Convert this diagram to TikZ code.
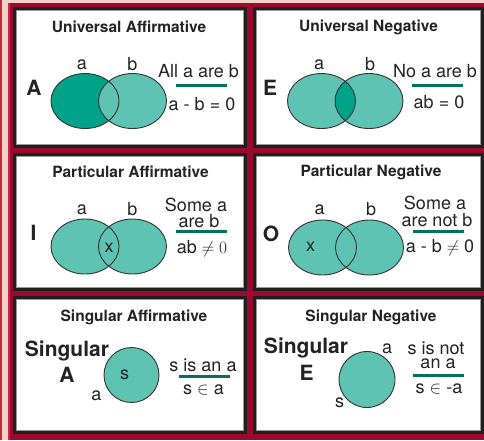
\documentclass[tikz,border=0pt]{standalone}
\usepackage{fontspec}
\setmainfont{TeX Gyre Heros}
\definecolor{wine}{HTML}{9C0A2F}
\definecolor{blush}{HTML}{F2D3C9}
\definecolor{flag}{HTML}{C8283A}
\definecolor{teallt}{HTML}{5FC3B4}
\definecolor{tealdk}{HTML}{00A38A}
\definecolor{ulgreen}{HTML}{00735A}
\definecolor{ink}{HTML}{232323}

\begin{document}
\begin{tikzpicture}[x=1pt,y=-1pt,
  panel/.style={draw=black!88,line width=3pt,fill=white},
  rim/.style={draw=black!40,line width=0.6pt},
  title/.style={inner sep=0pt,text=ink,font=\bfseries\fontsize{15.5}{17}\selectfont},
  big/.style={inner sep=0pt,text=ink,font=\bfseries\fontsize{21}{23}\selectfont},
  txt/.style={inner sep=0pt,text=ink,font=\fontsize{18}{20}\selectfont},
  venn/.style={draw=black!80,line width=0.9pt},
  ovl/.style={x radius=34pt,y radius=27.5pt},
  uline/.style={draw=ulgreen,line width=3pt}]
\useasboundingbox (0,0) rectangle (484,440);
% frame
\fill[wine] (0,0) rectangle (484,440);
\fill[blush] (0,0) rectangle (484,3);
\fill[blush] (0,0) rectangle (8.5,440);
\draw[flag,line width=1.5pt] (0.8,0) -- (0.8,440);
\draw[flag,line width=1.5pt] (9.2,3) -- (9.2,440);
\draw[panel] (14.5,8.5) rectangle (245,146.5);
\draw[panel] (254.5,8.5) rectangle (482.5,146.5);
\draw[panel] (14.5,154.5) rectangle (245,289.5);
\draw[panel] (254.5,154.5) rectangle (482.5,289.5);
\draw[panel] (14.5,297.5) rectangle (245,432.5);
\draw[panel] (254.5,297.5) rectangle (482.5,432.5);
\draw[rim] (16.4,10.4) rectangle (243.1,144.6);
\draw[rim] (256.4,10.4) rectangle (480.6,144.6);
\draw[rim] (16.4,156.4) rectangle (243.1,287.6);
\draw[rim] (256.4,156.4) rectangle (480.6,287.6);
\draw[rim] (16.4,299.4) rectangle (243.1,430.6);
\draw[rim] (256.4,299.4) rectangle (480.6,430.6);

% universal affirmative
\node[title] (uatitle) at (129,27) {Universal Affirmative};
\node[big] (uakey) at (34,87.5) {A};
\fill[tealdk] (85,101) ellipse [ovl];
\fill[teallt] (132.5,101) ellipse [ovl];
\draw[venn] (85,101) ellipse [ovl];
\draw[venn] (132.5,101) ellipse [ovl];
\node[txt] (uaa) at (82,65) {a};
\node[txt] (uab) at (132.5,64) {b};
\node[txt] (uatop) at (198.5,71.5) {All a are b};
\draw[uline] (176,85.5) -- (227,85.5);
\node[txt] (uabot) at (202,104) {a - b = 0};

% universal negative
\node[title] (untitle) at (368.5,27) {Universal Negative};
\node[big] (unkey) at (270,88) {E};
\fill[teallt] (321.5,101) ellipse [ovl];
\fill[teallt] (369,101) ellipse [ovl];
\begin{scope}
\clip (321.5,101) ellipse [ovl];
\fill[tealdk] (369,101) ellipse [ovl];
\end{scope}
\draw[venn] (321.5,101) ellipse [ovl];
\draw[venn] (369,101) ellipse [ovl];
\node[txt] (una) at (319,65) {a};
\node[txt] (unb) at (370,64) {b};
\node[txt] (untop) at (435,71.5) {No a are b};
\draw[uline] (412,85.5) -- (463,85.5);
\node[txt] (unbot) at (439,102) {ab = 0};

% particular affirmative
\node[title] (patitle) at (130.5,172) {Particular Affirmative};
\node[big] (pakey) at (33.5,233) {I};
\fill[teallt] (85,246.5) ellipse [ovl];
\fill[teallt] (132.5,246.5) ellipse [ovl];
\draw[venn] (85,246.5) ellipse [ovl];
\draw[venn] (132.5,246.5) ellipse [ovl];
\node[txt] (pax) at (109,248) {x};
\node[txt] (paa) at (82,210) {a};
\node[txt] (pab) at (132.5,209) {b};
\node[txt] (patop) at (196,205) {Some a};
\node[txt] (pamid) at (199,221.5) {are b};
\draw[uline] (176,231) -- (227,231);
\node[txt] (pabot) at (202,248.5) {ab $\neq 0$};

% particular negative
\node[title] (pntitle) at (371,172) {Particular Negative};
\node[big] (pnkey) at (271,233.5) {O};
\fill[teallt] (322.5,247.5) ellipse [ovl];
\fill[teallt] (369.5,247.5) ellipse [ovl];
\draw[venn] (322.5,247.5) ellipse [ovl];
\draw[venn] (369.5,247.5) ellipse [ovl];
\node[txt] (pnx) at (310.5,247) {x};
\node[txt] (pna) at (319.5,210) {a};
\node[txt] (pnb) at (371,209) {b};
\node[txt] (pntop) at (435,203) {Some a};
\node[txt] (pnmid) at (437,220) {are not b};
\draw[uline] (413,231) -- (464,231);
\node[txt] (pnbot) at (440,248) {a - b $\neq$ 0};

% singular affirmative
\node[title] (satitle) at (134,317) {Singular Affirmative};
\node[big] (saword) at (67,351) {Singular};
\node[big] (sakey) at (67,374.5) {A};
\filldraw[venn,fill=teallt] (131.5,375) circle [radius=27.5pt];
\node[txt] (sas) at (124.5,375) {s};
\node[txt] (saa) at (96.5,396) {a};
\node[txt] (satop) at (203,365) {s is an a};
\draw[uline] (179,376.5) -- (230,376.5);
\node[txt] (sabot) at (203.5,390) {s $\in$ a};

% singular negative
\node[title] (sntitle) at (371,317) {Singular Negative};
\node[big] (snword) at (306,348) {Singular};
\node[big] (snkey) at (306.5,372.5) {E};
\filldraw[venn,fill=teallt] (367,379.5) circle [radius=28pt];
\node[txt] (sna) at (387,348.5) {a};
\node[txt] (sns) at (339.5,402.5) {s};
\node[txt] (sntop) at (436,348.5) {s is not};
\node[txt] (snmid) at (438,364) {an a};
\draw[uline] (413,375.5) -- (464,375.5);
\node[txt] (snbot) at (439,389) {s $\in$ -a};
\end{tikzpicture}
\end{document}
